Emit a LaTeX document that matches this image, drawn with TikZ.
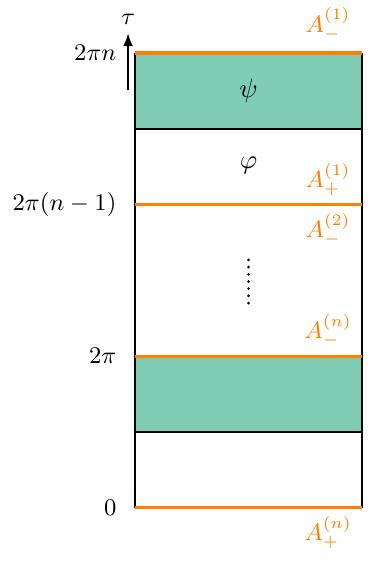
\documentclass[tikz,border=0pt]{standalone}
\usepackage{amsmath,amssymb}
\usetikzlibrary{arrows.meta,positioning}
\definecolor{bandgreen}{RGB}{128,204,181}
\definecolor{lineorange}{RGB}{255,128,0}

\begin{document}
\begin{tikzpicture}[
  band/.style={fill=bandgreen,draw=none},
  edge/.style={draw=black,thick},
  slice/.style={draw=lineorange,very thick},
  lab/.style={font=\small,text=lineorange},
  tick/.style={font=\small,anchor=east}
]
\useasboundingbox (-1.78,-0.73) rectangle (3.07,6.70);
% shaded slabs
\fill[band] (0,5) rectangle (3,6);
\fill[band] (0,1) rectangle (3,2);
% cylinder walls and cuts
\draw[edge] (0,0) -- (0,6);
\draw[edge] (3,0) -- (3,6);
\draw[edge] (0,5) -- (3,5);
\draw[edge] (0,1) -- (3,1);
\foreach \y in {0,2,4,6}
  \draw[slice] (0,\y) -- (3,\y);
% time axis
\coordinate (tbot) at (-0.09,5.51);
\coordinate (ttop) at (-0.09,6.26);
\draw[-{Latex[length=1.7mm,width=1.3mm]},semithick] (tbot) -- (ttop);
\node[font=\small] (tau) at (-0.09,6.45) {$\tau$};
% heights
\node[tick] (hn)  at (-0.12,6) {$2\pi n$};
\node[tick] (hn1) at (-0.12,4) {$2\pi(n-1)$};
\node[tick] (h1)  at (-0.12,2) {$2\pi$};
\node[tick] (h0)  at (-0.12,0) {$0$};
% states
\node (psi) at (1.5,5.5) {$\psi$};
\node (phi) at (1.5,4.52) {$\varphi$};
\foreach \k in {0,...,6}
  \fill (1.5,3.27-0.095*\k) circle (0.55pt);
% boundary operators
\node[lab] (am1) at (2.55,6.38) {$A_-^{(1)}$};
\node[lab] (ap1) at (2.55,4.33) {$A_+^{(1)}$};
\node[lab] (am2) at (2.55,3.67) {$A_-^{(2)}$};
\node[lab] (amn) at (2.55,2.34) {$A_-^{(n)}$};
\node[lab] (apn) at (2.55,-0.33) {$A_+^{(n)}$};
\end{tikzpicture}
\end{document}
